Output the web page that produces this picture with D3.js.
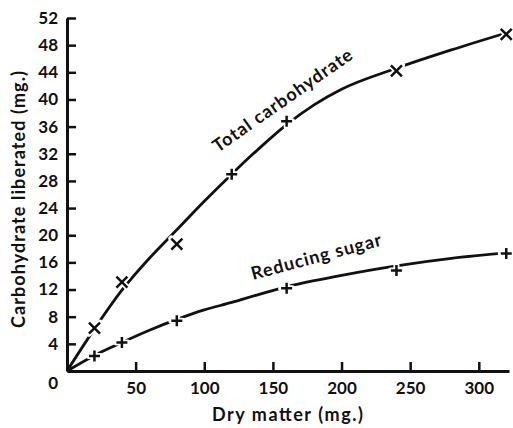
<!DOCTYPE html>
<html>
<head>
<meta charset="utf-8">
<script src="https://cdn.jsdelivr.net/npm/d3@7"></script>
<style>
  body { margin: 0; background: #fff; }
  svg { display: block; }
  text { font-family: Lato, "Open Sans", sans-serif; font-weight: 700; fill: #111; }
</style>
</head>
<body>
<div id="chart"></div>
<script>
// measured points (mg)
var dryMatter = [20, 40, 80, 120, 160, 240, 320];
var totalCarb = [6.3, 13.1, 18.7, 29.0, 36.8, 44.2, 49.6];
var totalMarks = ["x", "x", "x", "+", "+", "x", "x"];
var reducingSugar = [2.2, 4.2, 7.4, null, 12.2, 14.8, 17.3];

// hand-drawn smooth curves
var curveX = [0, 20, 40, 60, 80, 100, 120, 140, 160, 180, 200, 240, 280, 320];
var totalCurve = [0, 6.2, 11.9, 16.6, 20.8, 25.0, 29.0, 32.8, 36.3, 39.2, 41.5, 44.6, 47.3, 49.8];
var sugarCurve = [0, 2.3, 4.2, 6.0, 7.6, 9.0, 10.1, 11.3, 12.4, 13.3, 14.1, 15.5, 16.6, 17.4];

var yTicks = [4, 8, 12, 16, 20, 24, 28, 32, 36, 40, 44, 48, 52];
var xTicks = [50, 100, 150, 200, 250, 300];

var width = 513, height = 428;
var margin = {top: 18, right: 4, bottom: 57, left: 67};

var svg = d3.select("#chart").append("svg")
  .attr("width", width)
  .attr("height", height);

var x = d3.scaleLinear().domain([0, 322]).range([margin.left, width - margin.right]);
var y = d3.scaleLinear().domain([0, 52]).range([height - margin.bottom, margin.top]);

// axes: ticks point inwards
var xAxis = svg.append("g")
  .attr("transform", "translate(0," + y(0) + ")")
  .call(d3.axisBottom(x).tickValues(xTicks).tickSizeInner(-9).tickSizeOuter(0));
var yAxis = svg.append("g")
  .attr("transform", "translate(" + x(0) + ",0)")
  .call(d3.axisLeft(y).tickValues(yTicks).tickSizeInner(-9).tickSizeOuter(0));

[xAxis, yAxis].forEach(function(a) {
  a.select(".domain").attr("stroke", "#111").attr("stroke-width", 3);
  a.selectAll(".tick line").attr("stroke", "#111").attr("stroke-width", 2.5);
  a.selectAll(".tick text").attr("font-size", 17).attr("fill", "#111")
    .style("font-family", "Lato, sans-serif").style("font-weight", 700);
});
yAxis.selectAll(".tick text").attr("x", -9);
xAxis.selectAll(".tick text").attr("y", 11);

// the single zero at the corner
svg.append("text")
  .attr("x", x(0) - 9)
  .attr("y", y(0) + 18)
  .attr("text-anchor", "end")
  .attr("font-size", 17)
  .text("0");

// curves
var line = d3.line()
  .x(function(d) { return x(d[0]); })
  .y(function(d) { return y(d[1]); })
  .curve(d3.curveMonotoneX);

[totalCurve, sugarCurve].forEach(function(vals) {
  svg.append("path")
    .datum(curveX.map(function(v, i) { return [v, vals[i]]; }))
    .attr("fill", "none")
    .attr("stroke", "#111")
    .attr("stroke-width", 2.8)
    .attr("d", line);
});

// markers
function markPath(kind) {
  var r = 5.5;
  if (kind === "x") return "M" + -r + "," + -r + "L" + r + "," + r + "M" + -r + "," + r + "L" + r + "," + -r;
  return "M" + -r + ",0H" + r + "M0," + -r + "V" + r;
}

var points = [];
dryMatter.forEach(function(d, i) {
  points.push({x: d, y: totalCarb[i], kind: totalMarks[i]});
  if (reducingSugar[i] != null) points.push({x: d, y: reducingSugar[i], kind: "+"});
});

var marks = svg.append("g").selectAll("g")
  .data(points)
  .enter().append("g")
  .attr("transform", function(d) { return "translate(" + x(d.x) + "," + y(d.y) + ")"; });

marks.append("path")
  .attr("d", function(d) { return markPath(d.kind); })
  .attr("stroke", "#fff")
  .attr("stroke-width", 6)
  .attr("stroke-linecap", "round");
marks.append("path")
  .attr("d", function(d) { return markPath(d.kind); })
  .attr("stroke", "#111")
  .attr("stroke-width", 2.5);

// curve labels (old print is loosely spaced, so stretch to the measured length)
svg.append("text")
  .attr("transform", "translate(" + x(110) + "," + y(32.1) + ") rotate(-35)")
  .attr("font-size", 18)
  .attr("textLength", 166)
  .attr("lengthAdjust", "spacing")
  .text("Total carbohydrate");

svg.append("text")
  .attr("transform", "translate(" + x(135.5) + "," + y(13.4) + ") rotate(-15)")
  .attr("font-size", 18)
  .attr("textLength", 134)
  .attr("lengthAdjust", "spacing")
  .text("Reducing sugar");

// axis titles
svg.append("text")
  .attr("x", 212)
  .attr("y", 421)
  .attr("font-size", 18)
  .attr("textLength", 151)
  .attr("lengthAdjust", "spacing")
  .text("Dry matter (mg.)");

svg.append("text")
  .attr("transform", "translate(25,328) rotate(-90)")
  .attr("font-size", 18)
  .attr("textLength", 257)
  .attr("lengthAdjust", "spacing")
  .text("Carbohydrate liberated (mg.)");
</script>
</body>
</html>
